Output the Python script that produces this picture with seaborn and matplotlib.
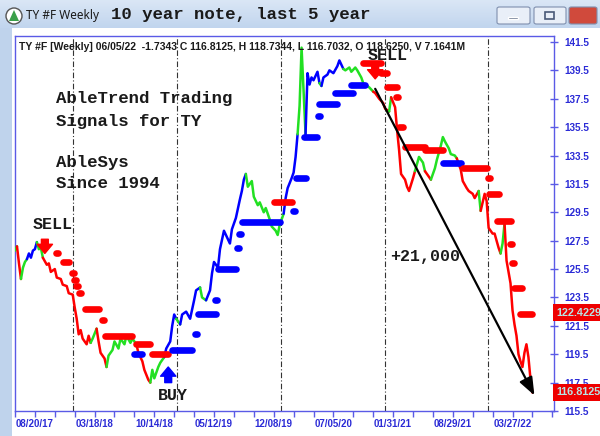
import numpy as np
import pandas as pd
import matplotlib
matplotlib.use("Agg")
import matplotlib.pyplot as plt
import matplotlib.dates as mdates
from matplotlib.patches import Rectangle, FancyBboxPatch, Ellipse, Polygon
from matplotlib.colors import LinearSegmentedColormap
import seaborn as sns

# weekly bars: index = weeks after 06/11/17, close, signal colour (r/g/b)
week = [0, 1, 2, 3, 4, 5, 6, 7, 8, 9, 10, 11, 12, 13, 14, 16, 17, 18, 20, 21,
        23, 24, 26, 27, 29, 30, 31, 32, 33, 34, 36, 37, 38, 39, 41, 42, 43, 45, 46, 47,
        49, 50, 52, 53, 55, 56, 58, 59, 61, 62, 64, 65, 67, 68, 69, 70, 72, 73, 75, 76,
        78, 79, 80, 81, 83, 84, 86, 88, 90, 91, 93, 94, 96, 98, 99, 100, 102, 103, 105, 106,
        108, 109, 111, 113, 114, 115, 116, 117, 119, 120, 122, 123, 125, 126, 128, 129, 131, 132, 133, 135,
        136, 137, 139, 140, 141, 142, 143, 144, 145, 146, 147, 148, 149, 150, 152, 153, 154, 155, 157, 158,
        160, 162, 163, 165, 166, 168, 169, 171, 172, 174, 175, 177, 178, 180, 181, 183, 185, 186, 188, 189,
        191, 192, 193, 194, 196, 197, 198, 200, 201, 203, 205, 206, 208, 209, 211, 212, 214, 215, 216, 218,
        219, 221, 222, 224, 225, 227, 228, 230, 231, 233, 234, 236, 237, 238, 240, 241, 243, 244, 245, 246,
        247, 249, 250, 251, 252, 253, 254, 255, 256, 257, 258, 259, 260]
close = [126.8, 127.1, 125.9, 124.8, 125.6, 126.0, 126.2, 126.6, 126.3, 126.8, 126.9, 127.4, 126.9, 127.0, 126.3, 125.8, 125.9, 125.3, 125.5, 124.9,
         124.8, 124.4, 124.3, 123.8, 123.7, 122.8, 122.0, 120.9, 121.2, 120.6, 120.2, 120.8, 120.3, 120.6, 121.3, 120.4, 119.6, 119.2, 118.6, 119.4,
         119.8, 120.4, 119.9, 120.6, 120.2, 120.8, 120.3, 120.6, 120.2, 119.6, 119.0, 118.4, 117.7, 117.5, 118.4, 117.8, 118.6, 118.9, 119.3, 119.9,
         120.4, 121.5, 122.3, 122.0, 121.6, 122.3, 122.5, 122.0, 123.3, 124.0, 124.2, 123.5, 123.3, 124.0, 125.2, 126.0, 125.6, 126.9, 128.2, 127.9,
         127.3, 128.3, 129.1, 130.4, 131.0, 131.8, 132.2, 131.3, 131.7, 130.6, 130.0, 130.2, 129.5, 129.8, 129.0, 128.5, 128.2, 127.9, 128.6, 129.4,
         130.5, 131.2, 131.9, 132.3, 133.4, 135.0, 137.0, 141.1, 138.1, 135.0, 139.3, 138.5, 139.0, 138.8, 139.4, 138.6, 138.4, 139.0, 139.2, 139.5,
         139.3, 139.8, 140.2, 139.6, 139.5, 139.7, 139.4, 139.7, 139.5, 139.0, 138.6, 138.4, 138.3, 138.0, 137.9, 137.5, 137.2, 136.8, 136.6, 137.6,
         136.9, 135.3, 133.9, 132.2, 131.8, 131.3, 131.0, 131.9, 132.4, 133.4, 133.0, 132.4, 132.0, 131.8, 132.6, 133.2, 134.2, 134.8, 134.5, 134.0,
         133.6, 133.5, 133.3, 132.5, 131.7, 131.2, 131.0, 130.8, 130.5, 131.0, 129.6, 130.8, 130.3, 128.4, 128.0, 128.0, 127.0, 126.6, 127.3, 128.7,
         126.1, 124.5, 122.6, 121.6, 120.8, 119.5, 119.0, 118.6, 119.6, 120.2, 119.3, 117.8, 116.8]
signal = ("ggrrgggbbbbbgggrrrrr" "rrrrrrrrrrrrrggrrrrg" "gggggggggrrrrrgggggb" "bbbbgbbbbbbggbbbbbbb"
          "bbbbbbbggggggggggggg" "bbbbbbggggbbbbbbgbbb" "bbbbggggggggggrrrrrg" "rrrrrrrrrgggrrgggggg"
          "gggrrrrrrrgrrrrrrrgg" "rrrrrrrrrrrrr")

# AbleTrend stops: from week, to week, level, colour
stop_from = [21, 24, 29, 30, 31, 32, 35, 44, 45, 61, 69, 60,
             79, 91, 92, 101, 102, 112, 113, 114, 130, 140, 141, 145, 153, 153, 161, 169,
             175, 184, 187, 192, 193, 196, 206, 215, 225, 238, 238, 242, 249, 250, 251, 254]
stop_to = [21, 27, 29, 30, 31, 33, 42, 44, 59, 68, 77, 64,
           89, 91, 101, 101, 111, 112, 113, 133, 139, 140, 146, 152, 153, 162, 170, 176,
           184, 187, 192, 192, 195, 206, 215, 224, 237, 238, 243, 249, 249, 250, 255, 260]
stop_level = [126.6, 126.0, 125.2, 124.7, 124.3, 123.8, 122.7, 121.9, 120.8, 120.2, 119.5, 119.5,
              119.8, 120.9, 122.3, 123.3, 125.5, 127.0, 128.0, 128.8, 130.2, 129.6, 131.9, 134.8, 136.3, 137.1, 137.9, 138.5,
              140.0, 139.3, 138.3, 137.6, 135.5, 134.1, 133.9, 133.0, 132.6, 131.9, 130.8, 128.9, 127.3, 125.9, 124.2, 122.3]
stop_color = "rrrrrrrrrrrb" "bbbbbbbbrbbbbbbb" "rrrrrrrbrrrrrrrr"

sell_weeks = [15, 181]
sell_tops = [127.6, 139.9]
buy_weeks = [77]
buy_bottoms = [117.5]
trend_from = (181, 138.2)
trend_to = (261, 116.6)

x_tick_dates = pd.date_range("2017-08-20", periods=9, freq="30W-SUN")
y_ticks = np.arange(115.5, 141.6, 2.0)
year_lines = ["2018-01-01", "2019-01-01", "2020-01-01", "2021-01-01", "2022-01-01"]
header = ("TY #F [Weekly] 06/05/22  -1.7343 C 116.8125, H 118.7344, "
          "L 116.7032, O 118.6250, V 7.1641M")
last_labels = [(122.4229, "122.4229"), (116.8125, "116.8125")]

base = pd.Timestamp("2017-06-11")


def to_date(w):
    return base + pd.to_timedelta(np.asarray(w, dtype=float) * 7, unit="D")


pal = {"r": "#ff0000", "g": "#22e022", "b": "#0000ff"}
blue_txt = "#2b2bd6"
axis_col = "#5a5ae6"
mono = ["Liberation Mono", "DejaVu Sans Mono"]
sans = ["Liberation Sans", "DejaVu Sans"]

sns.set_theme(style="white")
plt.rcParams["font.family"] = sans

W, H = 600, 436
fig = plt.figure(figsize=(6, 4.36), dpi=100)
fig.patch.set_facecolor("white")


def fx(px):
    return px / W


def fy(py):
    return 1 - py / H


# window chrome
tax = fig.add_axes([0, fy(28), 1, 28 / H])
grad = np.linspace(0, 1, 50).reshape(-1, 1)
tax.imshow(grad, aspect="auto", extent=[0, 1, 0, 1],
           cmap=LinearSegmentedColormap.from_list("tb", ["#dbe7f6", "#c1d5ee"]))
tax.set_axis_off()
fig.patches.append(Rectangle((0, 0), fx(12), fy(28), transform=fig.transFigure,
                             facecolor="#bfd3ec", edgecolor="none", zorder=0))
fig.patches.append(Ellipse((fx(14), fy(16)), 16 / W, 16 / H, transform=fig.transFigure,
                           facecolor="white", edgecolor="#555555", lw=1, zorder=5))
fig.patches.append(Polygon([(fx(9), fy(21)), (fx(14), fy(10)), (fx(19), fy(21))], closed=True,
                           transform=fig.transFigure, facecolor="#3aa04a", edgecolor="none", zorder=6))
for x0, x1, fc in [(497, 530, "#e9eff8"), (534, 566, "#e9eff8"), (569, 597, "#d04a3c")]:
    fig.patches.append(FancyBboxPatch((fx(x0), fy(24)), fx(x1 - x0), (24 - 7) / H,
                                      boxstyle="round,pad=0,rounding_size=0.004",
                                      transform=fig.transFigure, facecolor=fc,
                                      edgecolor="#7f8fae", lw=0.8, zorder=5))
fig.patches.append(Rectangle((fx(508), fy(19)), fx(10), 2 / H, transform=fig.transFigure,
                             facecolor="#4a5a78", zorder=6))
fig.patches.append(Rectangle((fx(545), fy(19)), fx(9), 7 / H, transform=fig.transFigure,
                             facecolor="none", edgecolor="#4a5a78", lw=1.2, zorder=6))
fig.text(fx(583), fy(15.5), "X", color="white", fontsize=8, fontweight="bold",
         ha="center", va="center", family=sans)
fig.text(fx(26), fy(16), "TY #F Weekly", fontsize=8.5, color="#1a1a1a",
         ha="left", va="center", family=["Noto Sans", "DejaVu Sans"])
fig.text(fx(111), fy(14), "10 year note, last 5 year", fontsize=12.5, fontweight="bold",
         color="#1a1a1a", ha="left", va="center", family=mono)

# chart
ax = fig.add_axes([fx(14.5), fy(411), (553.5 - 14.5) / W, (411 - 36) / H])
ax.set_facecolor("white")

for yl in year_lines:
    ax.axvline(pd.Timestamp(yl), color="#333333", lw=0.8, ls=(0, (5, 2, 1, 2)), zorder=1)

df = pd.DataFrame({"date": to_date(week), "close": close, "sig": list(signal)})
run_id = (df["sig"] != df["sig"].shift()).cumsum()
for _, grp in df.groupby(run_id):
    lo = max(grp.index[0] - 1, 0)
    part = df.loc[lo:grp.index[-1]]
    sns.lineplot(data=part, x="date", y="close", color=pal[grp["sig"].iloc[0]],
                 lw=1.8, estimator=None, sort=False, ax=ax, zorder=3)

for a, b, lev, c in zip(stop_from, stop_to, stop_level, stop_color):
    if a == b:
        a, b = a - 0.5, b + 0.5
    ax.plot(to_date([a, b]), [lev, lev], color=pal[c], lw=4.8,
            solid_capstyle="round", zorder=4)

for w, top in zip(sell_weeks, sell_tops):
    ax.annotate("", xy=(to_date(w), top - 1.0), xytext=(to_date(w), top),
                arrowprops=dict(arrowstyle="simple,head_width=1.0,head_length=0.6,tail_width=0.45",
                                color=pal["r"], shrinkA=0, shrinkB=0, mutation_scale=11), zorder=5)
for w, bot in zip(buy_weeks, buy_bottoms):
    ax.annotate("", xy=(to_date(w), bot + 1.1), xytext=(to_date(w), bot),
                arrowprops=dict(arrowstyle="simple,head_width=1.0,head_length=0.6,tail_width=0.45",
                                color=pal["b"], shrinkA=0, shrinkB=0, mutation_scale=11), zorder=5)

ax.annotate("", xy=(to_date(trend_to[0]), trend_to[1]),
            xytext=(to_date(trend_from[0]), trend_from[1]),
            arrowprops=dict(arrowstyle="-|>,head_width=0.35,head_length=0.9", color="black",
                            lw=1.6, shrinkA=0, shrinkB=0, mutation_scale=12), zorder=6)

ax.set_xlim(to_date(-0.25), to_date(270.6))
ax.set_ylim(115.5, 141.92)
ax.set_xlabel("")
ax.set_ylabel("")

ax.xaxis.set_major_locator(matplotlib.ticker.FixedLocator(mdates.date2num(x_tick_dates)))
ax.xaxis.set_major_formatter(mdates.DateFormatter("%m/%d/%y"))
ax.xaxis.set_minor_locator(matplotlib.ticker.FixedLocator(
    mdates.date2num(to_date(np.arange(0, 271, 10)))))
ax.tick_params(axis="x", which="both", direction="out", length=4, width=1,
               color=axis_col, labelcolor=blue_txt, labelsize=7, pad=2, bottom=True)
ax.yaxis.tick_right()
ax.set_yticks(y_ticks)
ax.set_yticklabels([f"{v:.1f}" for v in y_ticks])
ax.tick_params(axis="y", which="major", direction="inout", length=6, width=1,
               color=axis_col, labelcolor=blue_txt, labelsize=7.2, pad=5, right=True, left=False)
for lab in ax.get_xticklabels() + ax.get_yticklabels():
    lab.set_fontweight("bold")
for sp in ax.spines.values():
    sp.set_visible(True)
    sp.set_color(axis_col)
    sp.set_linewidth(1)

for val, txt in last_labels:
    ax.text(1.006, val, txt, transform=ax.get_yaxis_transform(), ha="left", va="center",
            fontsize=7.8, fontweight="bold", color="#b8e4e4", clip_on=False, zorder=10,
            bbox=dict(boxstyle="square,pad=0.3", facecolor="#ee0000", edgecolor="none"))

# text overlays
fig.text(fx(19), fy(47), header, fontsize=7.5, fontweight="bold", color="#1a1a1a",
         ha="left", va="center", family=sans)
for py, txt in [(99, "AbleTrend Trading"), (121, "Signals for TY"),
                (162, "AbleSys"), (183, "Since 1994")]:
    fig.text(fx(56), fy(py), txt, fontsize=12.5, fontweight="bold", color="#1a1a1a",
             ha="left", va="center", family=mono)
for px, py, txt in [(33, 224, "SELL"), (368, 56, "SELL"), (158, 395, "BUY"), (390, 256, "+21,000")]:
    fig.text(fx(px), fy(py), txt, fontsize=12, fontweight="bold", color="#1a1a1a",
             ha="left", va="center", family=mono)

fig.savefig("out.png", dpi=100)
